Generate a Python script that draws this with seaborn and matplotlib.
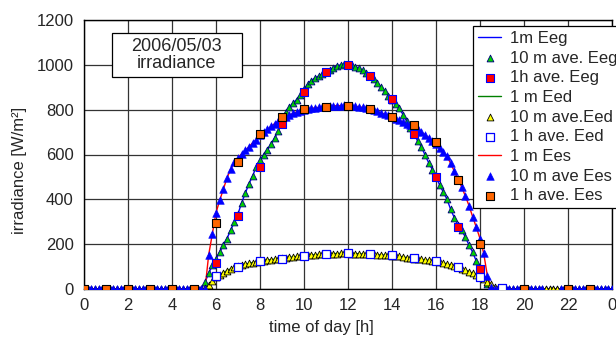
import numpy as np
import pandas as pd
import matplotlib
matplotlib.use("Agg")
import matplotlib.pyplot as plt
from matplotlib.patches import Rectangle
import seaborn as sns

# ---------------- data ----------------
# day-time 10-minute samples, 5:30 .. 18:50
t_day = [round(5.5 + i / 6, 3) for i in range(81)]
eeg_10m_day = [30, 70, 105, 135, 165, 195, 225, 263, 298, 335,
               385, 428, 470, 505, 545, 575, 600, 622, 645, 675,
               705, 740, 790, 812, 830, 845, 865, 890, 915, 930,
               942, 950, 960, 970, 978, 988, 995, 1000, 1003, 1002,
               998, 992, 985, 975, 962, 950, 935, 917, 903, 885,
               862, 845, 825, 806, 778, 748, 718, 690, 660, 635,
               598, 563, 533, 500, 464, 432, 400, 355, 318, 285,
               262, 232, 196, 164, 124, 88, 50, 22, 6, 0, 0]
eed_10m_day = [5, 18, 35, 52, 63, 73, 82, 90, 96, 101,
               106, 110, 114, 118, 121, 124, 127, 129, 131, 133,
               135, 137, 139, 141, 143, 145, 146, 148, 150, 151,
               153, 154, 155, 156, 157, 158, 158, 159, 159, 159,
               158, 158, 157, 156, 155, 155, 154, 153, 152, 151,
               150, 149, 147, 145, 143, 140, 138, 136, 134, 132,
               130, 128, 126, 123, 120, 116, 112, 107, 102, 97,
               91, 85, 78, 70, 62, 53, 43, 33, 22, 11, 3]
ees_10m_day = [0, 152, 245, 340, 395, 445, 495, 535, 565, 585,
               603, 618, 635, 652, 665, 685, 700, 712, 725, 738,
               748, 760, 768, 776, 783, 790, 795, 800, 803, 806,
               808, 810, 812, 813, 815, 817, 818, 818, 819, 818,
               817, 815, 813, 810, 806, 802, 797, 792, 786, 780,
               774, 768, 760, 752, 745, 738, 730, 722, 712, 700,
               688, 675, 660, 645, 627, 610, 592, 560, 525, 490,
               455, 415, 372, 322, 275, 225, 160, 60, 8, 0, 0]

# night-time 10-minute samples (all zero)
t_night_am = [round(i / 6, 3) for i in range(33)]          # 0:00 .. 5:20
t_night_pm = [round(19 + i / 6, 3) for i in range(31)]     # 19:00 .. 24:00
night_am = [0] * len(t_night_am)
night_pm = [0] * len(t_night_pm)
ees_gap = [21.0, 21.167, 21.333, 21.5]                     # missing 10-min values

# hourly averages
h_eeg = [6, 7, 8, 9, 10, 11, 12, 13, 14, 15, 16, 17, 18]
eeg_1h = [117, 326, 545, 736, 880, 966, 999, 951, 846, 691, 498, 275, 88]
h_eed = [6, 7, 8, 9, 10, 11, 12, 13, 14, 15, 16, 17, 18, 19]
eed_1h = [59, 100, 124, 136, 148, 158, 159, 155, 151, 137, 125, 97, 52, 6]
h_ees = [0, 1, 2, 3, 4, 5, 6, 7, 8, 9, 10, 11, 12, 13, 14, 15, 16, 17, 18, 20, 22, 23]
ees_1h = [0, 0, 0, 0, 0, 0, 296, 565, 690, 769, 801, 810, 815, 801, 769, 731,
          654, 486, 201, 0, 0, 0]

x_ticks = [0, 2, 4, 6, 8, 10, 12, 14, 16, 18, 20, 22, 24]
x_ticklabels = ["0", "2", "4", "6", "8", "10", "12", "14", "16", "18", "20", "22", "0"]
y_ticks = [0, 200, 400, 600, 800, 1000, 1200]

# ---------------- assemble ----------------
t_full = t_night_am + t_day + t_night_pm
eeg_full = night_am + eeg_10m_day + night_pm
eed_full = night_am + eed_10m_day + night_pm
ees_full = night_am + ees_10m_day + night_pm
df = pd.DataFrame({"t": t_full, "eeg": eeg_full, "eed": eed_full, "ees": ees_full})
df_ees10 = df[~df["t"].isin(ees_gap)]

# ---------------- style ----------------
sns.set_theme(style="white")
plt.rcParams["font.family"] = ["Liberation Sans", "DejaVu Sans"]
plt.rcParams["font.size"] = 12

fig = plt.figure(figsize=(6.16, 3.43), dpi=100)
ax = fig.add_axes([84 / 616, 1 - 289 / 343, 528 / 616, 269 / 343])

tri_s = 24
sq_s = 34

# Eeg
sns.lineplot(data=df, x="t", y="eeg", ax=ax, color="#0000ff", lw=1.0,
             estimator=None, sort=False, label="1m Eeg")
sns.scatterplot(data=df, x="t", y="eeg", ax=ax, marker="^", s=tri_s,
                color="#00d000", edgecolor="#000080", linewidth=0.6,
                label="10 m ave. Eeg", zorder=3)
sns.scatterplot(x=h_eeg, y=eeg_1h, ax=ax, marker="s", s=sq_s,
                color="#ff0000", edgecolor="#0000ff", linewidth=0.8,
                label="1h ave. Eeg", zorder=4)
# Eed
sns.lineplot(data=df, x="t", y="eed", ax=ax, color="#008000", lw=1.0,
             estimator=None, sort=False, label="1 m Eed")
sns.scatterplot(data=df, x="t", y="eed", ax=ax, marker="^", s=tri_s,
                color="#ffff00", edgecolor="#000000", linewidth=0.6,
                label="10 m ave.Eed", zorder=3)
sns.scatterplot(x=h_eed, y=eed_1h, ax=ax, marker="s", s=sq_s,
                color="#ffffff", edgecolor="#0000ff", linewidth=0.9,
                label="1 h ave. Eed", zorder=4)
# Ees
sns.lineplot(data=df, x="t", y="ees", ax=ax, color="#ff0000", lw=1.0,
             estimator=None, sort=False, label="1 m Ees")
sns.scatterplot(data=df_ees10, x="t", y="ees", ax=ax, marker="^", s=30,
                color="#0000ff", edgecolor="#0000ff", linewidth=0.4,
                label="10 m ave Ees", zorder=3)
sns.scatterplot(x=h_ees, y=ees_1h, ax=ax, marker="s", s=sq_s,
                color="#ff6600", edgecolor="#000000", linewidth=0.8,
                label="1 h ave. Ees", zorder=4)

# ---------------- axes ----------------
ax.set_xlim(0, 24)
ax.set_ylim(0, 1200)
ax.set_xticks(x_ticks)
ax.set_xticklabels(x_ticklabels)
ax.set_xticks(range(0, 25), minor=True)
ax.set_yticks(y_ticks)
ax.set_yticks(range(0, 1201, 100), minor=True)
ax.tick_params(axis="both", which="both", direction="inout", color="black",
               width=0.8, labelsize=12)
ax.tick_params(axis="both", which="major", length=7)
ax.tick_params(axis="both", which="minor", length=6)
ax.tick_params(axis="x", which="major", pad=3)
ax.tick_params(axis="y", which="major", pad=4)
ax.grid(True, which="major", color="#333333", lw=0.9)
ax.set_axisbelow(True)
for sp in ax.spines.values():
    sp.set_color("black")
    sp.set_linewidth(1.0)

ax.set_xlabel("time of day [h]", fontsize=12)
ax.set_ylabel("irradiance [W/m²]", fontsize=12)
ax.xaxis.set_label_coords(0.449, -0.115)
ax.yaxis.set_label_coords(-0.108, 0.44)

# annotation box
ax.add_patch(Rectangle((1.26, 944), 5.91, 199, facecolor="white",
                       edgecolor="black", lw=0.9, zorder=5))
ax.text(4.21, 1044, "2006/05/03\nirradiance", ha="center", va="center",
        fontsize=13, linespacing=1.05, zorder=6)

# legend
handles, labels = ax.get_legend_handles_labels()
order = ["1m Eeg", "10 m ave. Eeg", "1h ave. Eeg", "1 m Eed", "10 m ave.Eed",
         "1 h ave. Eed", "1 m Ees", "10 m ave Ees", "1 h ave. Ees"]
hmap = dict(zip(labels, handles))
leg = ax.legend([hmap[l] for l in order], order, loc="upper left",
                bbox_to_anchor=(0.737, 0.978), frameon=True, fancybox=False,
                framealpha=1, edgecolor="black", fontsize=12, labelspacing=0.28,
                handlelength=1.4, handletextpad=0.5, borderpad=0.3,
                borderaxespad=0, scatterpoints=1)
leg.get_frame().set_linewidth(0.9)
leg.set_zorder(10)

fig.savefig("out.png", dpi=100)
